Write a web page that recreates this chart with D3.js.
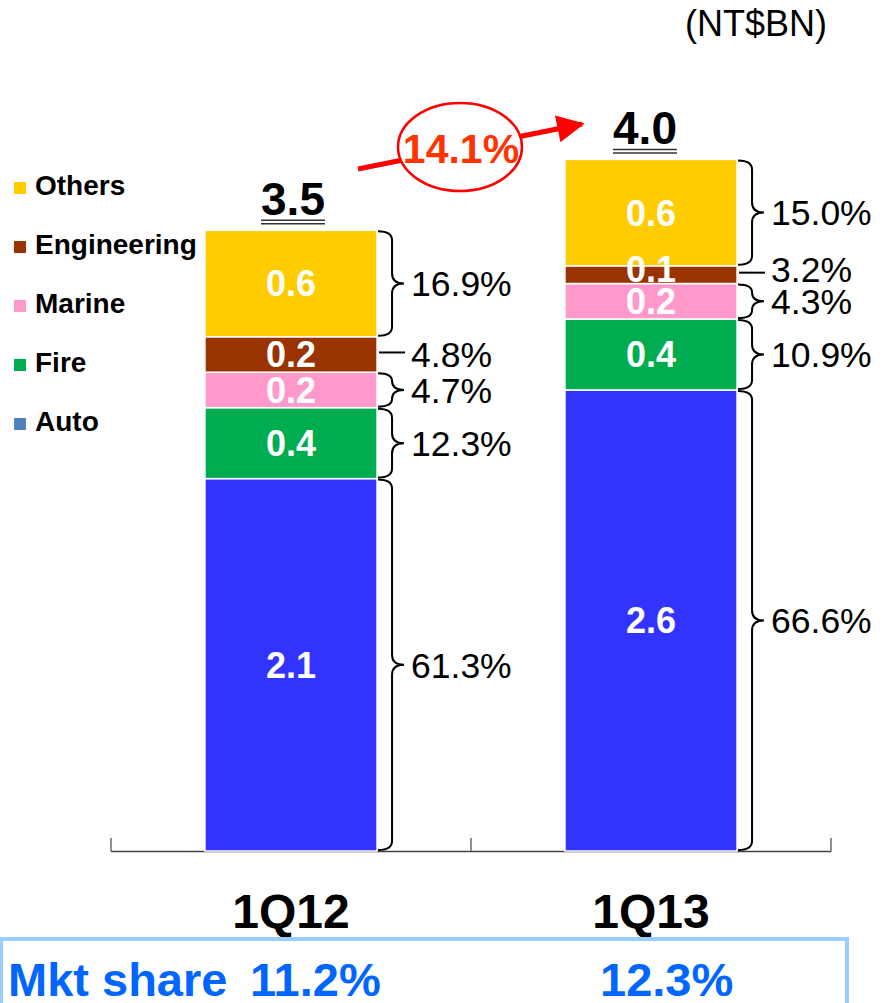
<!DOCTYPE html>
<html>
<head>
<meta charset="utf-8">
<script src="https://cdn.jsdelivr.net/npm/d3@7"></script>
<style>
  html, body { margin: 0; padding: 0; background: #fff; }
  svg { display: block; font-family: "Liberation Sans", Arial, sans-serif; }
</style>
</head>
<body>
<svg id="chart" width="883" height="1003"></svg>
<script>
// Premium income by line of business (NT$ billions)
const categories = ["1Q12", "1Q13"];
const seriesNames = ["Auto", "Fire", "Marine", "Engineering", "Others"];
const autoValues = [2.1, 2.6];
const fireValues = [0.4, 0.4];
const marineValues = [0.2, 0.2];
const engineeringValues = [0.2, 0.1];
const othersValues = [0.6, 0.6];
// share of each line within the quarter (%)
const autoShare = [61.3, 66.6];
const fireShare = [12.3, 10.9];
const marineShare = [4.7, 4.3];
const engineeringShare = [4.8, 3.2];
const othersShare = [16.9, 15.0];
const totals = [3.5, 4.0];
const growthPct = 14.1;
const marketShare = [11.2, 12.3];

const valuesBy = { Auto: autoValues, Fire: fireValues, Marine: marineValues, Engineering: engineeringValues, Others: othersValues };
const shareBy = { Auto: autoShare, Fire: fireShare, Marine: marineShare, Engineering: engineeringShare, Others: othersShare };
const barColor = { Auto: "#3333FF", Fire: "#00AC50", Marine: "#FF99CC", Engineering: "#993300", Others: "#FFCC00" };
const legendColor = { Auto: "#4F81BD", Fire: "#00AC50", Marine: "#FF99CC", Engineering: "#993300", Others: "#FFCC00" };

const rows = categories.map((c, i) => {
  const r = { category: c };
  seriesNames.forEach(k => r[k] = valuesBy[k][i]);
  return r;
});
const stacked = d3.stack().keys(seriesNames)(rows);

const svg = d3.select("#chart");

const x = d3.scaleBand().domain(categories).range([111, 831])
  .paddingInner(0.522).paddingOuter(0.261);
const y = d3.scaleLinear().domain([0, 4.5]).range([851, 53]);
const bw = x.bandwidth();
const step = x.step();

// unit label
svg.append("text").attr("x", 685).attr("y", 36)
  .attr("font-size", 36).attr("fill", "#000").text("(NT$BN)");

// baseline with category separators
const axisY = y(0);
const bounds = [x(categories[0]) - x.paddingOuter() * step,
  x(categories[1]) - x.paddingInner() * step / 2,
  x(categories[1]) + bw + x.paddingOuter() * step];
svg.append("line").attr("x1", bounds[0]).attr("x2", bounds[2])
  .attr("y1", axisY + 0.5).attr("y2", axisY + 0.5)
  .attr("stroke", "#444").attr("stroke-width", 1.5);
svg.selectAll("line.tick").data(bounds).join("line").attr("class", "tick")
  .attr("x1", d => d).attr("x2", d => d)
  .attr("y1", axisY - 13).attr("y2", axisY + 0.5)
  .attr("stroke", "#444").attr("stroke-width", 1.2);

// stacked bars
const layers = svg.selectAll("g.layer").data(stacked).join("g").attr("class", "layer")
  .attr("fill", d => barColor[d.key]);
layers.selectAll("rect").data(d => d).join("rect")
  .attr("x", d => x(d.data.category))
  .attr("width", bw)
  .attr("y", d => y(d[1]))
  .attr("height", d => y(d[0]) - y(d[1]))
  .attr("stroke", "#fff").attr("stroke-width", 1.5);

// label positions: segment centres, pushed up when they would collide
const labelY = {};
categories.forEach((c, i) => {
  let prev = Infinity;
  stacked.forEach(layer => {
    const seg = layer[i];
    let cy = (y(seg[0]) + y(seg[1])) / 2;
    cy = Math.min(cy, prev - 32);
    labelY[layer.key + "|" + c] = cy;
    prev = cy;
  });
});

// value labels inside segments
stacked.forEach(layer => {
  svg.append("g").selectAll("text").data(layer).join("text")
    .attr("x", d => x(d.data.category) + bw / 2)
    .attr("y", d => labelY[layer.key + "|" + d.data.category])
    .attr("dy", "0.36em")
    .attr("text-anchor", "middle")
    .attr("font-size", 36).attr("font-weight", "bold").attr("fill", "#fff")
    .text(d => d3.format(".1f")(d[1] - d[0]));
});

// braces and share labels to the right of each bar
function bracePath(x0, y0, y1) {
  const xm = x0 + 14, xt = x0 + 26, ym = (y0 + y1) / 2;
  const r = Math.min(10, (y1 - y0) / 4);
  return `M${x0},${y0 + 1} Q${xm},${y0 + 1} ${xm},${y0 + r} L${xm},${ym - r} ` +
    `Q${xm},${ym} ${xt},${ym} Q${xm},${ym} ${xm},${ym + r} L${xm},${y1 - r} ` +
    `Q${xm},${y1 - 1} ${x0},${y1 - 1}`;
}
stacked.forEach(layer => {
  layer.forEach((seg, i) => {
    const c = categories[i];
    const xr = x(c) + bw;
    const top = y(seg[1]), bot = y(seg[0]);
    if (layer.key === "Engineering") {
      const ly = (top + bot) / 2 - 2;
      svg.append("line").attr("x1", xr + 2).attr("x2", xr + 28)
        .attr("y1", ly).attr("y2", ly)
        .attr("stroke", "#000").attr("stroke-width", 2);
    } else {
      svg.append("path").attr("d", bracePath(xr + 1, top, bot))
        .attr("fill", "none").attr("stroke", "#000").attr("stroke-width", 2);
    }
    svg.append("text").attr("x", xr + 34)
      .attr("y", labelY[layer.key + "|" + c]).attr("dy", "0.36em")
      .attr("font-size", 35.5).attr("fill", "#000")
      .text(d3.format(".1f")(shareBy[layer.key][i]) + "%");
  });
});

// totals with double underline
const totalShift = [2, -6];
categories.forEach((c, i) => {
  const cx = x(c) + bw / 2 + totalShift[i];
  const top = y(d3.sum(seriesNames, k => valuesBy[k][i]));
  const t = svg.append("text").attr("x", cx).attr("y", top - 15)
    .attr("text-anchor", "middle").attr("font-size", 46).attr("font-weight", "bold")
    .attr("fill", "#000").text(d3.format(".1f")(totals[i]));
  const w = t.node().getComputedTextLength();
  [top - 10, top - 6.5].forEach(ly => {
    svg.append("line").attr("x1", cx - w / 2).attr("x2", cx + w / 2)
      .attr("y1", ly).attr("y2", ly).attr("stroke", "#333").attr("stroke-width", 1.5);
  });
});

// growth arrow with circled rate
const defs = svg.append("defs");
defs.append("marker").attr("id", "head").attr("viewBox", "0 0 10 10")
  .attr("refX", 9).attr("refY", 5).attr("markerWidth", 6).attr("markerHeight", 5.5)
  .attr("markerUnits", "strokeWidth").attr("orient", "auto")
  .append("path").attr("d", "M0,0 L10,5 L0,10 Z").attr("fill", "#FF0000");
svg.append("line").attr("x1", 358).attr("y1", 169).attr("x2", 582).attr("y2", 124)
  .attr("stroke", "#FF0000").attr("stroke-width", 5).attr("marker-end", "url(#head)");
svg.append("ellipse").attr("cx", 460).attr("cy", 147).attr("rx", 62).attr("ry", 44)
  .attr("fill", "#fff").attr("stroke", "#FF0000").attr("stroke-width", 2.5);
svg.append("text").attr("x", 461).attr("y", 148).attr("dy", "0.36em")
  .attr("text-anchor", "middle").attr("font-size", 41).attr("font-weight", "bold")
  .attr("fill", "#FF3300").text(d3.format(".1f")(growthPct) + "%");

// legend
const legendOrder = seriesNames.slice().reverse();
const lg = svg.append("g").selectAll("g").data(legendOrder).join("g")
  .attr("transform", (d, i) => `translate(14, ${195 + i * 59})`);
lg.append("rect").attr("x", 0).attr("y", -13).attr("width", 12).attr("height", 12)
  .attr("fill", d => legendColor[d]);
lg.append("text").attr("x", 21).attr("y", 0).attr("font-size", 28)
  .attr("font-weight", "bold").attr("fill", "#000").text(d => d);

// category labels
svg.selectAll("text.cat").data(categories).join("text").attr("class", "cat")
  .attr("x", d => x(d) + bw / 2).attr("y", 928)
  .attr("text-anchor", "middle").attr("font-size", 48).attr("font-weight", "bold")
  .attr("fill", "#000").text(d => d);

// market share box
svg.append("rect").attr("x", 1).attr("y", 939).attr("width", 846).attr("height", 100)
  .attr("fill", "none").attr("stroke", "#99CCFF").attr("stroke-width", 4);
svg.append("text").attr("x", 8).attr("y", 996).attr("font-size", 47)
  .attr("font-weight", "bold").attr("fill", "#0066FF").text("Mkt share");
const shareX = [250, 600];
svg.selectAll("text.ms").data(marketShare).join("text").attr("class", "ms")
  .attr("x", (d, i) => shareX[i]).attr("y", 996).attr("font-size", 47)
  .attr("font-weight", "bold").attr("fill", "#0066FF")
  .text(d => d3.format(".1f")(d) + "%");
</script>
</body>
</html>
